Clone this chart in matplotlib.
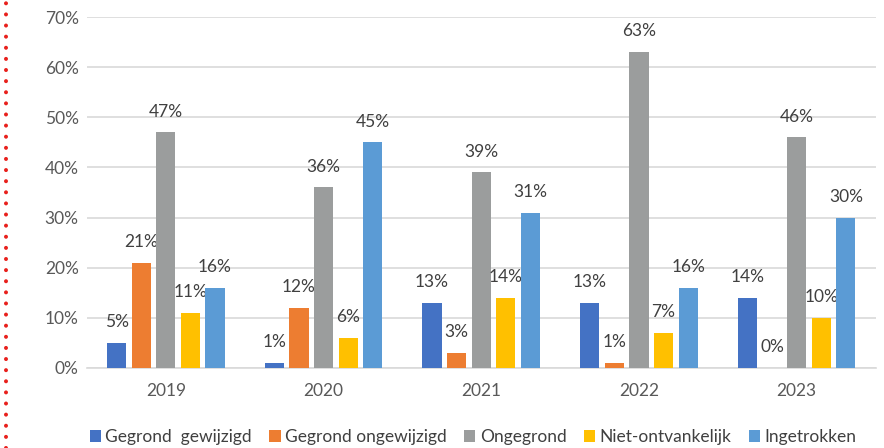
import numpy as np
import matplotlib.pyplot as plt
from matplotlib.lines import Line2D
from matplotlib.ticker import PercentFormatter

plt.rcParams['font.family'] = ['Lato', 'DejaVu Sans']

years = ["2019", "2020", "2021", "2022", "2023"]
series = ["Gegrond  gewijzigd", "Gegrond ongewijzigd", "Ongegrond",
          "Niet-ontvankelijk", "Ingetrokken"]
gegrond_gewijzigd = [5, 1, 13, 13, 14]
gegrond_ongewijzigd = [21, 12, 3, 1, 0]
ongegrond = [47, 36, 39, 63, 46]
niet_ontvankelijk = [11, 6, 14, 7, 10]
ingetrokken = [16, 45, 31, 16, 30]
values = [gegrond_gewijzigd, gegrond_ongewijzigd, ongegrond,
          niet_ontvankelijk, ingetrokken]
colors = ["#4472C4", "#ED7D31", "#9B9D9D", "#FFC000", "#5B9BD5"]

fig = plt.figure(figsize=(8.84, 4.48), dpi=100)
ax = fig.add_axes([0.0984, 0.1786, 0.892, 0.7834])

x = np.arange(len(years))
pitch = 0.156
width = 0.122
for i, (name, vals, c) in enumerate(zip(series, values, colors)):
    pos = x + (i - 2) * pitch
    ax.bar(pos, vals, width=width, color=c, label=name, zorder=3)
    for p, v in zip(pos, vals):
        ax.annotate(f"{v}%", (p, v), xytext=(0, 15), textcoords="offset points",
                    ha="center", va="center", fontsize=12.5, color="#404040")

ax.set_xlim(-0.5, len(years) - 0.5)
ax.set_ylim(0, 70)
ax.set_yticks(np.arange(0, 71, 10))
ax.yaxis.set_major_formatter(PercentFormatter(decimals=0))
ax.set_xticks(x)
ax.set_xticklabels(years)
ax.grid(axis="y", color="#D9D9D9", linewidth=1.2, zorder=0)
for s in ["top", "right", "left"]:
    ax.spines[s].set_visible(False)
ax.spines["bottom"].set_color("#D9D9D9")
ax.spines["bottom"].set_linewidth(1.2)
ax.tick_params(length=0, labelsize=12.5, labelcolor="#595959", pad=6)
ax.tick_params(axis="x", pad=11)

fig.legend(loc="center", bbox_to_anchor=(0.535, 0.024), ncol=5, frameon=False,
           fontsize=12.5, handlelength=0.65, handleheight=0.65, handletextpad=0.25,
           columnspacing=1.0, labelcolor="#404040")

# red dotted border on the left
fig.add_artist(Line2D([0.007, 0.007], [0, 1], transform=fig.transFigure,
                      color="#E8201C", linewidth=2.9, linestyle=(0, (0.01, 2.75)),
                      dash_capstyle="round"))

fig.savefig("out.png", dpi=100)
